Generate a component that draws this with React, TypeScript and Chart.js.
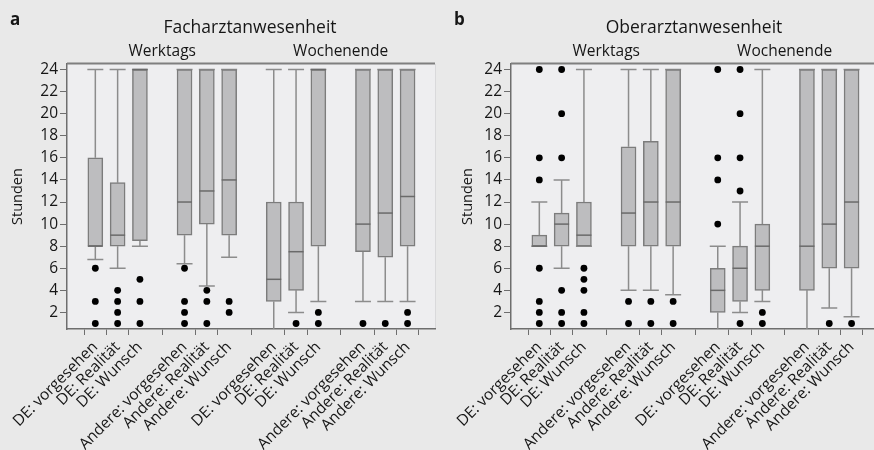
import React, { useEffect, useRef } from 'react';
import { Chart, registerables } from 'chart.js';

Chart.register(...registerables);

// ---------- data ----------
const categories = [
  'DE: vorgesehen', 'DE: Realität', 'DE: Wunsch',
  'Andere: vorgesehen', 'Andere: Realität', 'Andere: Wunsch',
  'DE: vorgesehen', 'DE: Realität', 'DE: Wunsch',
  'Andere: vorgesehen', 'Andere: Realität', 'Andere: Wunsch',
];
const groupLabels = ['Werktags', 'Wochenende'];
const yTickValues = [2, 4, 6, 8, 10, 12, 14, 16, 18, 20, 22, 24];
const yTitle = 'Stunden';

// Panel a: Facharztanwesenheit
const faLow = [6.8, 6, 8, 6.4, 4.4, 7, 0, 2, 3, 3, 3, 3];
const faQ1 = [8, 8, 8.5, 9, 10, 9, 3, 4, 8, 7.5, 7, 8];
const faMedian = [8, 9, 24, 12, 13, 14, 5, 7.5, 24, 10, 11, 12.5];
const faQ3 = [16, 13.75, 24, 24, 24, 24, 12, 12, 24, 24, 24, 24];
const faHigh = [24, 24, 24, 24, 24, 24, 24, 24, 24, 24, 24, 24];
const faOutliers = [
  [6, 3, 1], [4, 3, 2, 1], [5, 3, 1], [6, 3, 2, 1], [4, 3, 1], [3, 2],
  [], [1], [2, 1], [1], [1], [2, 1],
];

// Panel b: Oberarztanwesenheit
const obLow = [8, 6, 8, 4, 4, 3.6, 0, 2, 3, 0, 2.4, 1.6];
const obQ1 = [8, 8, 8, 8, 8, 8, 2, 3, 4, 4, 6, 6];
const obMedian = [8, 10, 9, 11, 12, 12, 4, 6, 8, 8, 10, 12];
const obQ3 = [9, 11, 12, 17, 17.5, 24, 6, 8, 10, 24, 24, 24];
const obHigh = [12, 14, 24, 24, 24, 24, 8, 12, 24, 24, 24, 24];
const obOutliers = [
  [24, 16, 14, 6, 3, 2, 1], [24, 20, 16, 4, 2, 1], [6, 5, 4, 2, 1],
  [3, 1], [3, 1], [3, 1],
  [24, 16, 14, 10], [24, 20, 16, 13, 1], [2, 1], [], [1], [1],
];

// ---------- styling ----------
const FONT = '"Open Sans", "Noto Sans", sans-serif';
const TEXT = '#161616';
const PAGE_BG = '#e9e9e9';
const PLOT_BG = '#eeeef0';
const BOX_FILL = '#bdbdbf';
const BOX_BORDER = '#7c7c7c';
const WHISKER = '#8c8c8c';
const AXIS = '#6e6e6e';

const slotOf = (i: number) => i + Math.floor(i / 3);
const groupCenterSlot = (g: number) => g * 8 + 3;

type PanelDef = {
  letter: string;
  title: string;
  low: number[];
  q1: number[];
  median: number[];
  q3: number[];
  high: number[];
  outliers: number[][];
  yTitleX: number;
};

const panels: PanelDef[] = [
  { letter: 'a', title: 'Facharztanwesenheit', low: faLow, q1: faQ1, median: faMedian, q3: faQ3, high: faHigh, outliers: faOutliers, yTitleX: 18 },
  { letter: 'b', title: 'Oberarztanwesenheit', low: obLow, q1: obQ1, median: obMedian, q3: obQ3, high: obHigh, outliers: obOutliers, yTitleX: 24 },
];

function makePlugin(p: PanelDef) {
  return {
    id: 'boxplotExtras',
    beforeDraw(chart: any) {
      const { ctx, chartArea: a } = chart;
      ctx.save();
      ctx.fillStyle = PLOT_BG;
      ctx.fillRect(a.left, a.top, a.right - a.left, a.bottom - a.top);
      ctx.strokeStyle = '#d9d9db';
      ctx.lineWidth = 1;
      ctx.beginPath();
      ctx.moveTo(a.right + 0.5, a.top);
      ctx.lineTo(a.right + 0.5, a.bottom);
      ctx.stroke();
      ctx.restore();
    },
    beforeDatasetsDraw(chart: any) {
      const { ctx, chartArea: a, scales } = chart;
      const xs = scales.x, ys = scales.y;
      ctx.save();
      ctx.beginPath();
      ctx.rect(a.left, a.top, a.right - a.left, a.bottom - a.top);
      ctx.clip();
      ctx.strokeStyle = WHISKER;
      ctx.lineWidth = 1.5;
      const capHalf = 8;
      categories.forEach((_, i) => {
        const x = xs.getPixelForValue(slotOf(i));
        const yl = ys.getPixelForValue(p.low[i]);
        const yq1 = ys.getPixelForValue(p.q1[i]);
        const yq3 = ys.getPixelForValue(p.q3[i]);
        const yh = ys.getPixelForValue(p.high[i]);
        ctx.beginPath();
        ctx.moveTo(x, yl); ctx.lineTo(x, yq1);
        ctx.moveTo(x, yq3); ctx.lineTo(x, yh);
        ctx.moveTo(x - capHalf, yl); ctx.lineTo(x + capHalf, yl);
        ctx.moveTo(x - capHalf, yh); ctx.lineTo(x + capHalf, yh);
        ctx.stroke();
      });
      ctx.restore();
    },
    afterDatasetDraw(chart: any, args: any) {
      if (args.index !== 0) return;
      const { ctx, scales } = chart;
      const xs = scales.x, ys = scales.y;
      ctx.save();
      ctx.strokeStyle = '#6a6a6a';
      ctx.lineWidth = 1.5;
      categories.forEach((_, i) => {
        const x = xs.getPixelForValue(slotOf(i));
        const y = ys.getPixelForValue(p.median[i]);
        ctx.beginPath();
        ctx.moveTo(x - 7.5, y); ctx.lineTo(x + 7.5, y);
        ctx.stroke();
      });
      ctx.restore();
    },
    afterDraw(chart: any) {
      const { ctx, chartArea: a, scales } = chart;
      const xs = scales.x;
      ctx.save();
      // top frame line
      ctx.strokeStyle = '#7f7f7f';
      ctx.lineWidth = 2;
      ctx.beginPath();
      ctx.moveTo(a.left, a.top - 0.5);
      ctx.lineTo(a.right, a.top - 0.5);
      ctx.stroke();
      ctx.fillStyle = TEXT;
      // panel letter
      ctx.font = `bold 17px ${FONT}`;
      ctx.textAlign = 'left';
      ctx.textBaseline = 'alphabetic';
      ctx.fillText(p.letter, 10, 25);
      // title
      ctx.font = `17.5px ${FONT}`;
      ctx.textAlign = 'center';
      ctx.fillText(p.title, (a.left + a.right) / 2 - 1, 33);
      // group labels
      ctx.font = `15.5px ${FONT}`;
      groupLabels.forEach((g, gi) => {
        ctx.fillText(g, xs.getPixelForValue(groupCenterSlot(gi)), 56);
      });
      // y title
      ctx.font = `14.5px ${FONT}`;
      ctx.translate(p.yTitleX, (a.top + a.bottom) / 2);
      ctx.rotate(-Math.PI / 2);
      ctx.textAlign = 'center';
      ctx.textBaseline = 'middle';
      ctx.fillText(yTitle, 0, 0);
      ctx.restore();
    },
  };
}

function Panel({ p }: { p: PanelDef }) {
  const ref = useRef<HTMLCanvasElement>(null);
  useEffect(() => {
    if (!ref.current) return;
    const boxData = categories.map((_, i) => ({ x: slotOf(i), y: [p.q1[i], p.q3[i]] }));
    const outlierData: { x: number; y: number }[] = [];
    p.outliers.forEach((arr, i) => arr.forEach((v) => outlierData.push({ x: slotOf(i), y: v })));
    const chart = new Chart(ref.current, {
      type: 'bar',
      data: {
        datasets: [
          {
            type: 'bar',
            data: boxData as any,
            backgroundColor: BOX_FILL,
            borderColor: BOX_BORDER,
            borderWidth: 1.5,
            borderSkipped: false,
            barThickness: 15,
            grouped: false,
            order: 2,
          } as any,
          {
            type: 'scatter',
            data: outlierData,
            backgroundColor: '#000',
            borderWidth: 0,
            pointRadius: 3.4,
            order: 1,
          } as any,
        ],
      },
      options: {
        animation: false,
        responsive: false,
        maintainAspectRatio: false,
        events: [],
        layout: { padding: { top: 64, right: 9, left: 0, bottom: 0 } },
        plugins: { legend: { display: false }, tooltip: { enabled: false }, title: { display: false } },
        scales: {
          x: {
            type: 'linear',
            min: -1.27,
            max: 15.23,
            offset: false,
            afterFit: (s: any) => { s.height = 121; },
            afterBuildTicks: (s: any) => { s.ticks = categories.map((_, i) => ({ value: slotOf(i) })); },
            grid: { display: true, drawOnChartArea: false, drawTicks: true, tickLength: 6, color: AXIS, lineWidth: 1 },
            border: { display: true, color: AXIS, width: 1.5 },
            ticks: {
              autoSkip: false,
              maxRotation: 45,
              minRotation: 45,
              padding: 3,
              color: TEXT,
              font: { family: FONT, size: 15.5 },
              callback: (_v: any, idx: number) => categories[idx],
            },
          },
          y: {
            type: 'linear',
            min: 0.5,
            max: 24.5,
            afterFit: (s: any) => { s.width = 67; },
            afterBuildTicks: (s: any) => { s.ticks = yTickValues.map((v) => ({ value: v })); },
            grid: { display: true, drawOnChartArea: false, drawTicks: true, tickLength: 7, color: AXIS, lineWidth: 1 },
            border: { display: true, color: AXIS, width: 1.5 },
            ticks: { color: TEXT, padding: 2, font: { family: FONT, size: 15.5 } },
          },
        },
      } as any,
      plugins: [makePlugin(p)],
    });
    return () => chart.destroy();
  }, [p]);
  return <canvas ref={ref} width={444} height={450} style={{ width: 444, height: 450, display: 'block', flex: '0 0 444px' }} />;
}

export default function App() {
  useEffect(() => {
    document.body.style.margin = '0';
    document.body.style.background = PAGE_BG;
  }, []);
  return (
    <div style={{ width: 874, height: 450, overflow: 'hidden', background: PAGE_BG, display: 'flex' }}>
      <Panel p={panels[0]} />
      <Panel p={panels[1]} />
    </div>
  );
}
